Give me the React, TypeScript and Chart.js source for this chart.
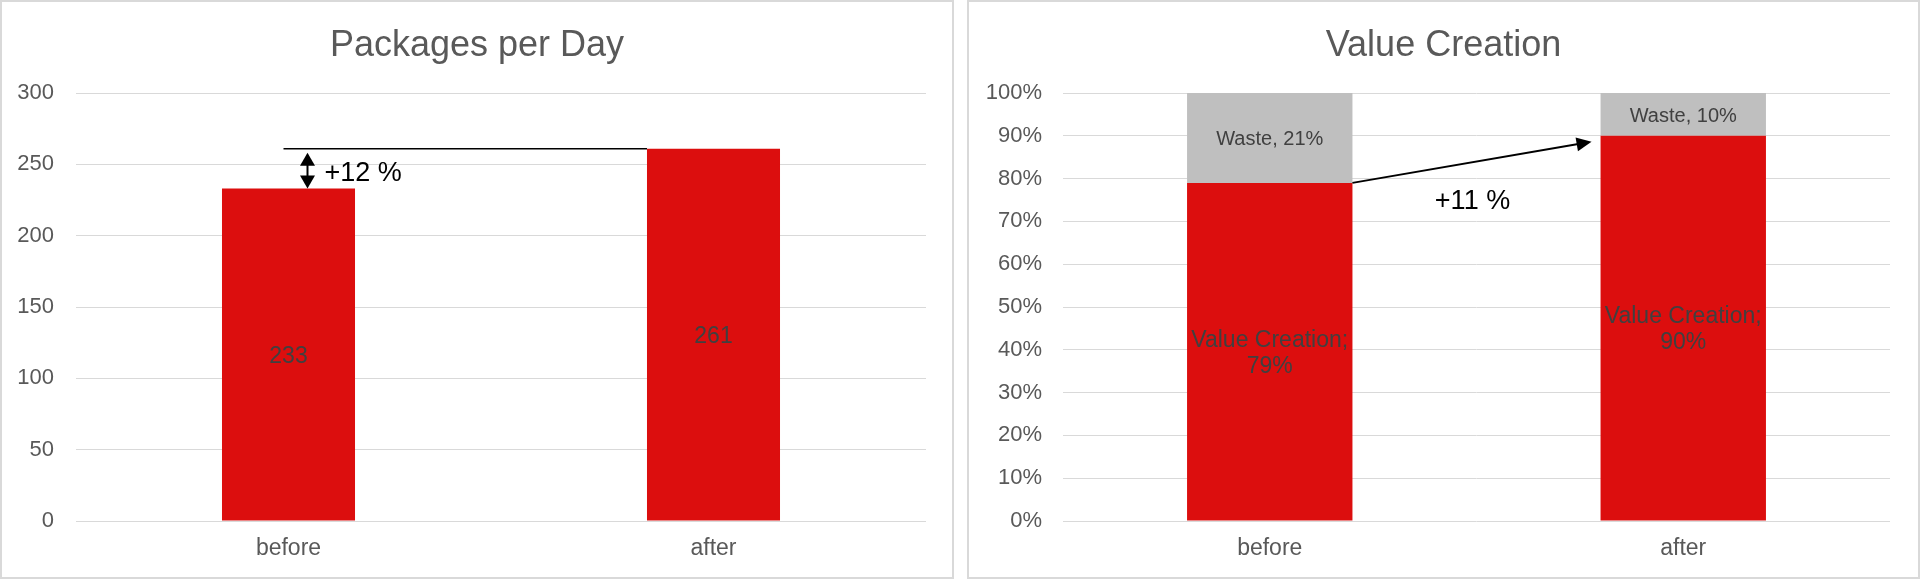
import React, { useEffect, useRef } from "react";
import { Chart, registerables } from "chart.js";

Chart.register(...registerables);

const categories = ["before", "after"];
const packagesPerDay = [233, 261];
const valueCreation = [79, 90];
const waste = [21, 10];
const packagesTicks = { min: 0, max: 300, step: 50 };
const percentTicks = { min: 0, max: 100, step: 10 };

const RED = "#DC0E0E";
const GRAY = "#BFBFBF";
const FONT = "'Liberation Sans', Arial, Helvetica, sans-serif";
const GRID = "#D9D9D9";

function arrowHead(ctx: CanvasRenderingContext2D, tipX: number, tipY: number, angle: number, len: number, wid: number) {
  ctx.save();
  ctx.translate(tipX, tipY);
  ctx.rotate(angle);
  ctx.beginPath();
  ctx.moveTo(0, 0);
  ctx.lineTo(-len, -wid / 2);
  ctx.lineTo(-len, wid / 2);
  ctx.closePath();
  ctx.fill();
  ctx.restore();
}

const barLabels = (labelFn: (ds: number, i: number) => { lines: string[]; size: number; lh: number } | null) => ({
  id: "barLabels",
  afterDatasetsDraw(chart: any) {
    const ctx = chart.ctx as CanvasRenderingContext2D;
    chart.data.datasets.forEach((_: any, di: number) => {
      const meta = chart.getDatasetMeta(di);
      meta.data.forEach((el: any, i: number) => {
        const spec = labelFn(di, i);
        if (!spec) return;
        const { x, y, base } = el.getProps(["x", "y", "base"], true);
        const cy = (y + base) / 2 + 2;
        ctx.save();
        ctx.fillStyle = "#404040";
        ctx.font = `${spec.size}px ${FONT}`;
        ctx.textAlign = "center";
        ctx.textBaseline = "middle";
        const n = spec.lines.length;
        spec.lines.forEach((t, k) => {
          ctx.fillText(t, x, cy + (k - (n - 1) / 2) * spec.lh);
        });
        ctx.restore();
      });
    });
  },
});

const packagesAnnotation = {
  id: "packagesAnnotation",
  afterDatasetsDraw(chart: any) {
    const ctx = chart.ctx as CanvasRenderingContext2D;
    const ys = chart.scales.y;
    const meta = chart.getDatasetMeta(0);
    const b0 = meta.data[0];
    const b1 = meta.data[1];
    const yTop = ys.getPixelForValue(packagesPerDay[1]);
    const yLow = ys.getPixelForValue(packagesPerDay[0]);
    ctx.save();
    ctx.strokeStyle = "#000";
    ctx.fillStyle = "#000";
    ctx.lineWidth = 1.5;
    ctx.beginPath();
    ctx.moveTo(b0.x - 5, yTop);
    ctx.lineTo(b1.x - b1.width / 2, yTop);
    ctx.stroke();
    const ax = b0.x + 19;
    const a1 = yTop + 4;
    const a2 = yLow;
    ctx.lineWidth = 2;
    ctx.beginPath();
    ctx.moveTo(ax, a1 + 10);
    ctx.lineTo(ax, a2 - 10);
    ctx.stroke();
    arrowHead(ctx, ax, a1, -Math.PI / 2, 13, 15);
    arrowHead(ctx, ax, a2, Math.PI / 2, 13, 15);
    const pct = Math.round((packagesPerDay[1] / packagesPerDay[0] - 1) * 100);
    ctx.font = `27px ${FONT}`;
    ctx.textAlign = "left";
    ctx.textBaseline = "middle";
    ctx.fillText(`+${pct} %`, ax + 17, (a1 + a2) / 2 + 3);
    ctx.restore();
  },
};

const valueAnnotation = {
  id: "valueAnnotation",
  afterDatasetsDraw(chart: any) {
    const ctx = chart.ctx as CanvasRenderingContext2D;
    const ys = chart.scales.y;
    const meta = chart.getDatasetMeta(0);
    const b0 = meta.data[0];
    const b1 = meta.data[1];
    const x0 = b0.x + b0.width / 2;
    const y0 = ys.getPixelForValue(valueCreation[0]);
    const x1 = b1.x - b1.width / 2 - 9;
    const y1 = ys.getPixelForValue(valueCreation[1]) + 6;
    const ang = Math.atan2(y1 - y0, x1 - x0);
    ctx.save();
    ctx.strokeStyle = "#000";
    ctx.fillStyle = "#000";
    ctx.lineWidth = 2;
    ctx.beginPath();
    ctx.moveTo(x0, y0);
    ctx.lineTo(x1 - Math.cos(ang) * 12, y1 - Math.sin(ang) * 12);
    ctx.stroke();
    arrowHead(ctx, x1, y1, ang, 15, 14);
    const diff = valueCreation[1] - valueCreation[0];
    ctx.font = `27px ${FONT}`;
    ctx.textAlign = "center";
    ctx.textBaseline = "middle";
    ctx.fillText(`+${diff} %`, (x0 + b1.x - b1.width / 2) / 2 - 4, ys.getPixelForValue(75) + 2);
    ctx.restore();
  },
};

function commonOptions(opts: {
  title: string;
  yWidth: number;
  yPad: number;
  rightSpace: number;
  ticks: { min: number; max: number; step: number };
  fmt: (v: number) => string;
  stacked: boolean;
}) {
  return {
    responsive: false,
    animation: false as const,
    events: [] as any[],
    layout: { padding: 0 },
    plugins: {
      legend: { display: false },
      tooltip: { enabled: false },
      title: {
        display: true,
        text: opts.title,
        color: "#595959",
        font: { size: 36, family: FONT, weight: "normal" as const, lineHeight: 1.2 },
        padding: { top: 22, bottom: 25.8 },
      },
    },
    scales: {
      x: {
        stacked: opts.stacked,
        grid: { display: false, drawTicks: false },
        border: { display: false },
        ticks: { color: "#595959", font: { size: 23, family: FONT }, padding: 14 },
        afterFit: (s: any) => {
          s.height = 56;
        },
      },
      y: {
        stacked: opts.stacked,
        min: opts.ticks.min,
        max: opts.ticks.max,
        grid: { color: GRID, lineWidth: 1, drawTicks: false },
        border: { display: false },
        ticks: {
          stepSize: opts.ticks.step,
          color: "#595959",
          font: { size: 22, family: FONT },
          padding: opts.yPad,
          callback: (v: any) => opts.fmt(Number(v)),
        },
        afterFit: (s: any) => {
          s.width = opts.yWidth;
        },
      },
      yRightSpace: {
        position: "right",
        min: opts.ticks.min,
        max: opts.ticks.max,
        grid: { display: false, drawTicks: false },
        border: { display: false },
        ticks: { display: false },
        afterFit: (s: any) => {
          s.width = opts.rightSpace;
        },
      },
    },
  };
}

function PackagesChart() {
  const ref = useRef<HTMLCanvasElement>(null);
  useEffect(() => {
    const chart = new Chart(ref.current!, {
      type: "bar",
      data: {
        labels: categories,
        datasets: [
          {
            label: "Packages per Day",
            data: packagesPerDay,
            backgroundColor: RED,
            barPercentage: 0.313,
            categoryPercentage: 1,
          },
        ],
      },
      options: commonOptions({
        title: "Packages per Day",
        yWidth: 74,
        yPad: 22,
        rightSpace: 26,
        ticks: packagesTicks,
        fmt: (v) => String(v),
        stacked: false,
      }) as any,
      plugins: [
        barLabels((_d, i) => ({ lines: [String(packagesPerDay[i])], size: 23, lh: 26 })),
        packagesAnnotation,
      ],
    });
    return () => chart.destroy();
  }, []);
  return <canvas ref={ref} width={950} height={575} style={{ display: "block", width: 950, height: 575 }} />;
}

function ValueChart() {
  const ref = useRef<HTMLCanvasElement>(null);
  useEffect(() => {
    const chart = new Chart(ref.current!, {
      type: "bar",
      data: {
        labels: categories,
        datasets: [
          {
            label: "Value Creation",
            data: valueCreation,
            backgroundColor: RED,
            barPercentage: 0.4,
            categoryPercentage: 1,
          },
          {
            label: "Waste",
            data: waste,
            backgroundColor: GRAY,
            barPercentage: 0.4,
            categoryPercentage: 1,
          },
        ],
      },
      options: commonOptions({
        title: "Value Creation",
        yWidth: 94,
        yPad: 21,
        rightSpace: 28,
        ticks: percentTicks,
        fmt: (v) => `${v}%`,
        stacked: true,
      }) as any,
      plugins: [
        barLabels((d, i) =>
          d === 0
            ? { lines: ["Value Creation;", `${valueCreation[i]}%`], size: 23, lh: 26 }
            : { lines: [`Waste, ${waste[i]}%`], size: 20, lh: 24 }
        ),
        valueAnnotation,
      ],
    });
    return () => chart.destroy();
  }, []);
  return <canvas ref={ref} width={949} height={575} style={{ display: "block", width: 949, height: 575 }} />;
}

export default function App() {
  useEffect(() => {
    document.body.style.margin = "0";
  }, []);
  const panel: React.CSSProperties = {
    position: "absolute",
    top: 0,
    height: 579,
    boxSizing: "border-box",
    border: "2px solid #D9D9D9",
    background: "#fff",
  };
  return (
    <div style={{ position: "fixed", left: 0, top: 0, width: 1920, height: 579, background: "#fff" }}>
      <div style={{ ...panel, left: 0, width: 954 }}>
        <PackagesChart />
      </div>
      <div style={{ ...panel, left: 967, width: 953 }}>
        <ValueChart />
      </div>
    </div>
  );
}
